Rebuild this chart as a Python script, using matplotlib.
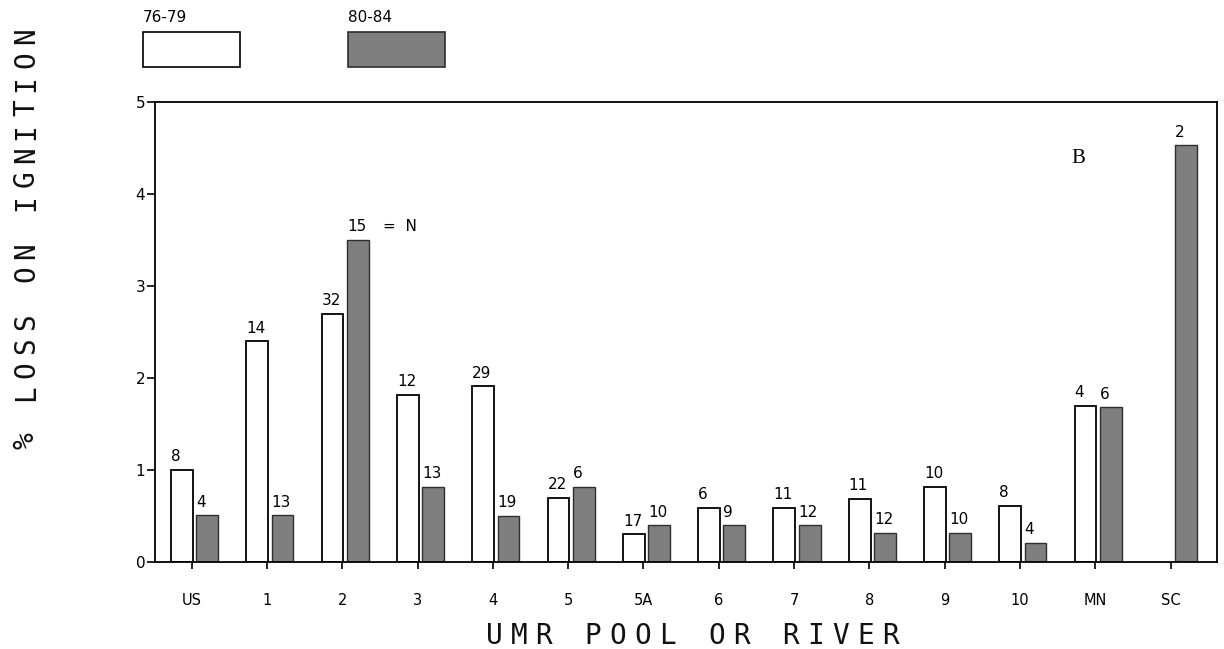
import numpy as np
import matplotlib
matplotlib.use("Agg")
import matplotlib.pyplot as plt
from matplotlib.patches import Rectangle

# pools / rivers along the x axis
pools = ["US", "1", "2", "3", "4", "5", "5A", "6", "7", "8", "9", "10", "MN", "SC"]

# % loss on ignition, 1976-79 (white) and 1980-84 (grey)
loss_7679 = [1.0, 2.4, 2.7, 1.82, 1.91, 0.70, 0.30, 0.59, 0.59, 0.69, 0.82, 0.61, 1.70, np.nan]
loss_8084 = [0.51, 0.51, 3.5, 0.82, 0.50, 0.82, 0.40, 0.40, 0.40, 0.32, 0.32, 0.21, 1.68, 4.53]

# sample counts (N) written over the bars
n_7679 = [8, 14, 32, 12, 29, 22, 17, 6, 11, 11, 10, 8, 4, None]
n_8084 = [4, 13, 15, 13, 19, 6, 10, 9, 12, 12, 10, 4, 6, 2]

legend_labels = ["76-79", "80-84"]

W, H = 1224, 649
GREY = "#7f7f7f"

fig = plt.figure(figsize=(W / 100, H / 100), dpi=100)
ax = fig.add_axes([155 / W, 1 - 562 / H, (1217 - 155) / W, 460 / H])

x = np.arange(len(pools))
w = 0.29
off_a, off_b = -0.129, 0.207

a = np.array(loss_7679, dtype=float)
b = np.array(loss_8084, dtype=float)
ok = ~np.isnan(a)
ax.bar(x[ok] + off_a, a[ok], width=w, color="white", edgecolor="black", linewidth=1.3)
ax.bar(x + off_b, b, width=w, color=GREY, edgecolor="#2e2e2e", linewidth=1.0)

# N labels, left aligned on each bar
for i in range(len(pools)):
    if n_7679[i] is not None and ok[i]:
        ax.annotate(str(n_7679[i]), xy=(x[i] + off_a - w / 2, a[i]), xytext=(0, 4),
                    textcoords="offset points", ha="left", va="bottom", fontsize=11)
    ax.annotate(str(n_8084[i]), xy=(x[i] + off_b - w / 2, b[i]), xytext=(0, 4),
                textcoords="offset points", ha="left", va="bottom", fontsize=11)
# "= N" note next to pool 2
ax.annotate("=  N", xy=(x[2] + off_b + w / 2, b[2]), xytext=(10, 4),
            textcoords="offset points", ha="left", va="bottom", fontsize=11)

ax.set_xlim(-0.487, 13.617)
ax.set_ylim(0, 5)
ax.set_xticks(x)
ax.set_xticklabels(pools, fontsize=10.5)
ax.set_yticks(range(6))
ax.set_yticklabels([str(v) for v in range(6)], fontsize=11)
ax.tick_params(axis="x", direction="out", length=5, width=1.2, pad=17)
ax.tick_params(axis="y", direction="out", length=6, width=1.2, pad=1)
for s in ax.spines.values():
    s.set_linewidth(1.3)

ax.text(0.869, 0.878, "B", transform=ax.transAxes, fontsize=15,
        family=["Liberation Serif", "DejaVu Serif"], ha="center", va="center")


def spaced_text(cx0, cy0, s, step, vertical=False):
    # plotter style lettering: one glyph at a time on a fixed pitch
    for k, ch in enumerate(s):
        if ch == " ":
            continue
        if vertical:
            px, py, rot = cx0, cy0 - k * step, 90
        else:
            px, py, rot = cx0 + k * step, cy0, 0
        fig.text(px / W, 1 - py / H, ch, rotation=rot, ha="center", va="center",
                 fontsize=20, family=["DejaVu Sans Mono"], fontweight="light", color="#111111")


spaced_text(494, 636, "UMR POOL OR RIVER", 24.75)
spaced_text(26, 440.6, "% LOSS ON IGNITION", 23.8, vertical=True)

# legend boxes above the plot
fig.patches.append(Rectangle((143 / W, 1 - 67 / H), 97 / W, 35 / H, transform=fig.transFigure,
                             facecolor="white", edgecolor="black", linewidth=1.2))
fig.patches.append(Rectangle((348 / W, 1 - 67 / H), 97 / W, 35 / H, transform=fig.transFigure,
                             facecolor=GREY, edgecolor="#2e2e2e", linewidth=1.2))
fig.text(143 / W, 1 - 18 / H, legend_labels[0], fontsize=11, ha="left", va="center")
fig.text(348 / W, 1 - 18 / H, legend_labels[1], fontsize=11, ha="left", va="center")

fig.savefig("out.png", dpi=100)
